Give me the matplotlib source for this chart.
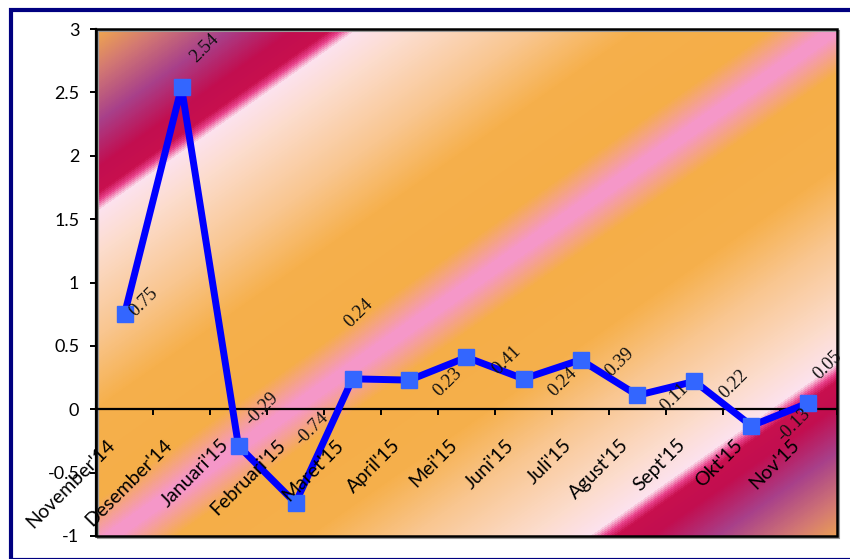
import numpy as np
import matplotlib.pyplot as plt
from matplotlib.colors import LinearSegmentedColormap
from matplotlib.patches import Rectangle
from matplotlib.transforms import ScaledTranslation

# data
months = ["November'14", "Desember'14", "Januari'15", "Februari'15", "Maret'15",
          "April'15", "Mei'15", "Juni'15", "Juli'15", "Agust'15", "Sept'15",
          "Okt'15", "Nov'15"]
values = [0.75, 2.54, -0.29, -0.74, 0.24, 0.23, 0.41, 0.24, 0.39, 0.11, 0.22, -0.13, 0.05]

# where each value label sits relative to its marker (pixels)
label_dx = [19, 23, 23, 16, 6, 38, 40, 39, 39, 37, 39, 42, 19]
label_dy = [12, 39, 37, 74, 66, -2, -3, -3, -2, -2, -3, 1, 38]

yticks = [-1, -0.5, 0, 0.5, 1, 1.5, 2, 2.5, 3]

W, H = 850, 559
fig = plt.figure(figsize=(W / 100, H / 100), dpi=100, facecolor='white')
ax = fig.add_axes([96 / W, 1 - 536 / H, 741 / W, 507 / H])

# ── diagonal gradient fill of the plot area ──────────
stops = [(0.000, '#F0A84E'), (0.040, '#D47A72'), (0.090, '#A8408A'),
         (0.135, '#C20E50'), (0.160, '#C8104E'), (0.168, '#E8408A'),
         (0.178, '#FCE2EE'), (0.220, '#FCDCCC'), (0.300, '#F9C690'),
         (0.370, '#F6B04C'), (0.462, '#F5AE48'), (0.500, '#F597C8')]
cmap = LinearSegmentedColormap.from_list('bg', [(p * 2, c) for p, c in stops])

u = np.linspace(0, 1, 741)
v = np.linspace(1, 0, 507)
U, V = np.meshgrid(u, v)
s = (29 + 507 * (1 - V)) + 0.7 * (96 + 741 * U)
f = (s - s.min()) / (s.max() - s.min())
g = np.where(f < 0.505, f, 1.01 - f)
ax.imshow(g, cmap=cmap, vmin=0, vmax=0.5, extent=(0, 1, 0, 1),
          transform=ax.transAxes, aspect='auto', zorder=0,
          interpolation='bilinear')

# ── series ───────────────────────────────────────────
x = np.arange(len(values))
ax.plot(x, values, color='#0000FF', lw=5, marker='s', ms=12,
        mfc='#3366FF', mec='#3366FF', zorder=4, clip_on=False)

for i, val in enumerate(values):
    ax.annotate(f'{val:.2f}', xy=(i, val), xytext=(label_dx[i], label_dy[i]),
                textcoords='offset pixels', rotation=45, ha='center',
                va='center', fontsize=13.5, family='Liberation Serif',
                color='#111111', zorder=5, annotation_clip=False)

# ── axes ─────────────────────────────────────────────
ax.set_xlim(-0.5, len(values) - 0.5)
ax.set_ylim(-1, 3)

ax.spines['bottom'].set_position(('data', 0))
for side in ['top', 'right']:
    ax.spines[side].set_visible(False)
ax.spines['left'].set_linewidth(1.6)
ax.spines['bottom'].set_linewidth(1.6)
ax.spines['left'].set_zorder(3)
ax.spines['bottom'].set_zorder(3)

# plot-area border with a faint grey shadow
shadow = ax.transAxes + ScaledTranslation(2 / 100, -2 / 100, fig.dpi_scale_trans)
ax.add_patch(Rectangle((0, 0), 1, 1, transform=shadow, fill=False,
                       ec='#9a9a9a', lw=1.5, zorder=2.9, clip_on=False))
ax.add_patch(Rectangle((0, 0), 1, 1, transform=ax.transAxes, fill=False,
                       ec='black', lw=1.8, zorder=3, clip_on=False))

ax.set_xticks(np.arange(-0.5, len(values), 1))
ax.set_xticklabels([])
ax.set_yticks(yticks)
ax.set_yticklabels([f'{t:g}' for t in yticks], family='Lato')
ax.tick_params(axis='both', direction='out', length=4.5, width=1.4,
               labelsize=13, color='black')
ax.tick_params(axis='y', pad=7.5)

for i, m in enumerate(months):
    ax.annotate(m, xy=(i, 0), xytext=(-12, -33), textcoords='offset pixels',
                rotation=45, rotation_mode='anchor', ha='right', va='center',
                fontsize=14, family='Lato', zorder=5, annotation_clip=False)

# ── outer navy frame (runs off the right edge) ───────
fig.patches.append(Rectangle((10.5 / W, -0.0015), 1.05, 1 - 10 / H + 0.0015,
                             transform=fig.transFigure, fill=False,
                             ec='#000080', lw=3, zorder=10))

fig.savefig('out.png', dpi=100, facecolor='white')
